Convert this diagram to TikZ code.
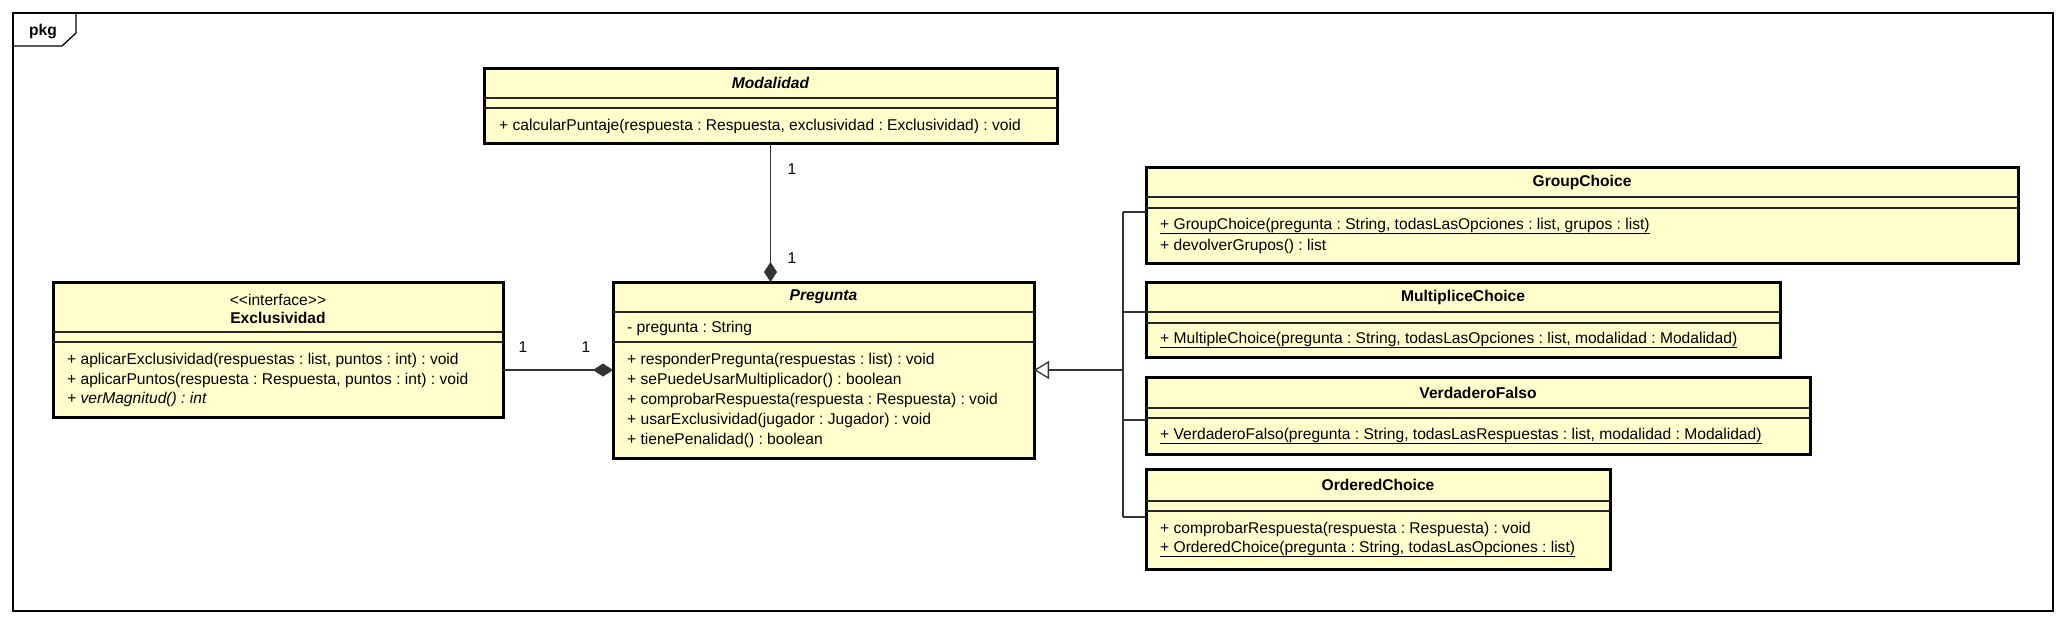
\documentclass[tikz,border=0pt]{standalone}
\usepackage{fontspec}
\setmainfont{Liberation Sans}
\usetikzlibrary{arrows.meta,calc}
\definecolor{clsfill}{RGB}{255,255,206}
\tikzset{
  clsbox/.style={draw=black, line width=3pt, fill=clsfill, anchor=north west, inner sep=0pt, outer sep=0pt},
  sepline/.style={draw=black!85, line width=1.2pt},
  txt/.style={anchor=west, inner sep=0pt, font=\fontsize{15.6}{18}\selectfont},
  ttl/.style={anchor=center, inner sep=0pt, font=\fontsize{15.6}{18}\selectfont\bfseries},
  attl/.style={anchor=center, inner sep=0pt, font=\fontsize{15.6}{18}\selectfont\bfseries\itshape},
  conn/.style={draw=black!80, line width=1.3pt},
  mult/.style={inner sep=0pt, font=\fontsize{15.6}{18}\selectfont},
}
\begin{document}
\frenchspacing
\begin{tikzpicture}[x=1pt,y=-1pt]
\useasboundingbox (0,0) rectangle (2066,624);
% frame
\draw[line width=1.3pt] (13,13) rectangle (2053,611);
\draw[line width=1.3pt] (13,46) -- (62,46) -- (76,33) -- (76,13);
\node[ttl] (pkg) at (43,31) {pkg};

% Modalidad
\node[clsbox, minimum width=573pt, minimum height=75pt] (mod) at (484,68) {};
\draw[sepline] (484,98) -- (1057,98);
\draw[sepline] (484,108) -- (1057,108);
\node[attl] (modt) at (770.5,83) {Modalidad};
\node[txt] (modm1) at (499,126) {+ calcularPuntaje(respuesta : Respuesta, exclusividad : Exclusividad) : void};

% Exclusividad
\node[clsbox, minimum width=450pt, minimum height=135pt] (exc) at (53,282) {};
\draw[sepline] (53,332) -- (503,332);
\draw[sepline] (53,342) -- (503,342);
\node[txt, anchor=center] (exst) at (278,300) {<{}<interface>{}>};
\node[ttl] (ext) at (278,318) {Exclusividad};
\node[txt] (exm1) at (67,360) {+ aplicarExclusividad(respuestas : list, puntos : int) : void};
\node[txt] (exm2) at (67,380) {+ aplicarPuntos(respuesta : Respuesta, puntos : int) : void};
\node[txt] (exm3) at (67,399) {\itshape + verMagnitud() : int};

% Pregunta
\node[clsbox, minimum width=421pt, minimum height=176pt] (preg) at (613,282) {};
\draw[sepline] (613,312) -- (1034,312);
\draw[sepline] (613,342) -- (1034,342);
\node[attl] (pt) at (823.5,297) {Pregunta};
\node[txt] (pa1) at (627,328) {- pregunta : String};
\node[txt] (pm1) at (627,360) {+ responderPregunta(respuestas : list) : void};
\node[txt] (pm2) at (627,380) {+ sePuedeUsarMultiplicador() : boolean};
\node[txt] (pm3) at (627,400) {+ comprobarRespuesta(respuesta : Respuesta) : void};
\node[txt] (pm4) at (627,420) {+ usarExclusividad(jugador : Jugador) : void};
\node[txt] (pm5) at (627,440) {+ tienePenalidad() : boolean};

% GroupChoice
\node[clsbox, minimum width=872pt, minimum height=96pt] (gc) at (1146,167) {};
\draw[sepline] (1146,197) -- (2018,197);
\draw[sepline] (1146,208) -- (2018,208);
\node[ttl] (gct) at (1582,182) {GroupChoice};
\node[txt] (gcm1) at (1160,226) {\underline{+ GroupChoice(pregunta : String, todasLasOpciones : list, grupos : list)}};
\node[txt] (gcm2) at (1160,246) {+ devolverGrupos() : list};

% MultipliceChoice
\node[clsbox, minimum width=634pt, minimum height=75pt] (mc) at (1146,282) {};
\draw[sepline] (1146,312) -- (1780,312);
\draw[sepline] (1146,323) -- (1780,323);
\node[ttl] (mct) at (1463,297) {MultipliceChoice};
\node[txt] (mcm1) at (1160,340) {\underline{+ MultipleChoice(pregunta : String, todasLasOpciones : list, modalidad : Modalidad)}};

% VerdaderoFalso
\node[clsbox, minimum width=664pt, minimum height=77pt] (vf) at (1146,377) {};
\draw[sepline] (1146,408) -- (1810,408);
\draw[sepline] (1146,418) -- (1810,418);
\node[ttl] (vft) at (1478,393) {VerdaderoFalso};
\node[txt] (vfm1) at (1160,436) {\underline{+ VerdaderoFalso(pregunta : String, todasLasRespuestas : list, modalidad : Modalidad)}};

% OrderedChoice
\node[clsbox, minimum width=464pt, minimum height=100pt] (oc) at (1146,469) {};
\draw[sepline] (1146,501) -- (1610,501);
\draw[sepline] (1146,511) -- (1610,511);
\node[ttl] (oct) at (1378,485) {OrderedChoice};
\node[txt] (ocm1) at (1160,529) {+ comprobarRespuesta(respuesta : Respuesta) : void};
\node[txt] (ocm2) at (1160,549) {\underline{+ OrderedChoice(pregunta : String, todasLasOpciones : list)}};

% composition Modalidad - Pregunta
\draw[conn, -{Diamond[length=20pt,width=13pt]}] (mod.south) -- (mod.south |- preg.north);
\node[mult] (m1) at (792,169) {1};
\node[mult] (m2) at (792,258) {1};

% composition Exclusividad - Pregunta
\draw[conn, -{Diamond[length=20pt,width=13pt]}] (exc.east |- preg.west) -- (preg.west);
\node[mult] (m3) at (523,347) {1};
\node[mult] (m4) at (586,347) {1};

% generalization
\coordinate (trk) at ($(preg.east)+(89,0)$);
\coordinate (gcb) at ($(gc.north west)+(0,45)$);
\coordinate (mcb) at ($(mc.north west)+(0,30)$);
\coordinate (vfb) at ($(vf.north west)+(0,43)$);
\coordinate (ocb) at ($(oc.north west)+(0,48)$);
\draw[conn, -{Triangle[open,length=15pt,width=18pt]}] (trk) -- (preg.east);
\draw[conn] (trk |- gcb) -- (trk |- ocb);
\draw[conn] (trk |- gcb) -- (gcb);
\draw[conn] (trk |- mcb) -- (mcb);
\draw[conn] (trk |- vfb) -- (vfb);
\draw[conn] (trk |- ocb) -- (ocb);
\end{tikzpicture}
\end{document}
